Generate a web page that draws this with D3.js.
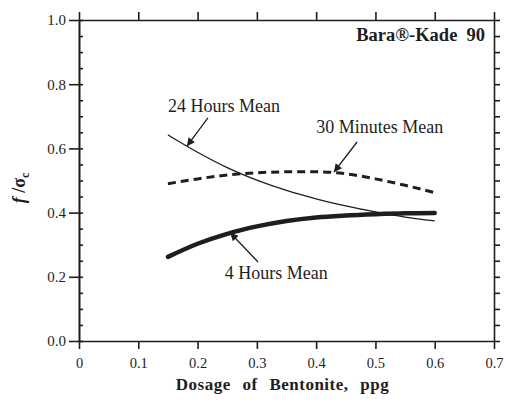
<!DOCTYPE html>
<html>
<head>
<meta charset="utf-8">
<script src="https://cdn.jsdelivr.net/npm/d3@7"></script>
<style>
  body { margin: 0; background: #fff; }
  text { font-family: "Liberation Serif", "DejaVu Serif", serif; fill: #1e1e1e; }
  .axis path, .axis line { stroke: #1e1e1e; stroke-width: 1.6; }
</style>
</head>
<body>
<div id="grafico"></div>
<script>
// Dati
var dosage = [0.15, 0.2, 0.25, 0.3, 0.35, 0.4, 0.45, 0.5, 0.55, 0.6];
var mean24h = [0.642, 0.588, 0.540, 0.501, 0.469, 0.443, 0.421, 0.402, 0.386, 0.374];
var mean30min = [0.49, 0.505, 0.517, 0.524, 0.527, 0.527, 0.521, 0.505, 0.485, 0.462];
var mean4h = [0.262, 0.303, 0.334, 0.357, 0.374, 0.385, 0.391, 0.395, 0.398, 0.399];

var xTicks = [0, 0.1, 0.2, 0.3, 0.4, 0.5, 0.6, 0.7];
var xTickLabels = ['0', '0.1', '0.2', '0.3', '0.4', '0.5', '0.6', '0.7'];
var yTicks = [0, 0.2, 0.4, 0.6, 0.8, 1.0];
var yMinorTicks = d3.range(0, 1.0001, 0.05);

// Etichette con frecce: [testo, x testo, y testo, coda x, coda y, punta x, punta y]
var labels = [
    ['24 Hours Mean', 0.150, 0.713, 0.2175, 0.695, 0.182, 0.607],
    ['30 Minutes Mean', 0.400, 0.648, 0.469, 0.620, 0.430, 0.526],
    ['4 Hours Mean', 0.246, 0.193, 0.302, 0.246, 0.255, 0.337]
];

var width = 505, height = 403;
var margin = {top: 20, right: 11, bottom: 62, left: 79};

var svg = d3.select('#grafico').append('svg')
    .attr('width', width)
    .attr('height', height);

svg.append('rect').attr('width', width).attr('height', height).attr('fill', '#fff');

var x = d3.scaleLinear().domain([0, 0.7]).range([margin.left, width - margin.right]);
var y = d3.scaleLinear().domain([0, 1]).range([height - margin.bottom, margin.top]);

// Assi
svg.append('g').attr('class', 'axis')
    .attr('transform', `translate(0,${y(0)})`)
    .call(d3.axisBottom(x).tickValues(xTicks).tickSize(8).tickSizeOuter(0).tickPadding(9)
        .tickFormat((d, i) => xTickLabels[i]))
    .selectAll('text').style('font-size', '14.5px');

svg.append('g').attr('class', 'axis')
    .attr('transform', `translate(0,${y(1)})`)
    .call(d3.axisTop(x).tickValues(xTicks).tickSize(8).tickSizeOuter(0).tickFormat(''));

svg.append('g').attr('class', 'axis')
    .attr('transform', `translate(${x(0)},0)`)
    .call(d3.axisLeft(y).tickValues(yTicks).tickSize(10).tickSizeOuter(0).tickPadding(3)
        .tickFormat(d3.format('.1f')))
    .selectAll('text').style('font-size', '15px');

svg.append('g').attr('class', 'axis')
    .attr('transform', `translate(${x(0)},0)`)
    .call(d3.axisRight(y).tickValues(yMinorTicks).tickSize(4).tickSizeOuter(0).tickFormat(''));

svg.append('g').attr('class', 'axis')
    .attr('transform', `translate(${x(0.7)},0)`)
    .call(d3.axisRight(y).tickValues(yMinorTicks).tickSize(6).tickSizeOuter(0).tickFormat(''));

// Curve
var line = d3.line()
    .x((d, i) => x(dosage[i]))
    .y(d => y(d))
    .curve(d3.curveMonotoneX);

svg.append('path').datum(mean24h)
    .attr('d', line).attr('fill', 'none')
    .attr('stroke', '#1e1e1e').attr('stroke-width', 1.3);

svg.append('path').datum(mean30min)
    .attr('d', line).attr('fill', 'none')
    .attr('stroke', '#1e1e1e').attr('stroke-width', 3)
    .attr('stroke-dasharray', '8,5');

svg.append('path').datum(mean4h)
    .attr('d', line).attr('fill', 'none')
    .attr('stroke', '#1e1e1e').attr('stroke-width', 4.5)
    .attr('stroke-linecap', 'round');

// Frecce
svg.append('defs').append('marker')
    .attr('id', 'freccia')
    .attr('viewBox', '0 0 10 10')
    .attr('refX', 10).attr('refY', 5)
    .attr('markerWidth', 11).attr('markerHeight', 8)
    .attr('markerUnits', 'userSpaceOnUse')
    .attr('orient', 'auto')
    .append('path').attr('d', 'M0,0 L10,5 L0,10 Z').attr('fill', '#1e1e1e');

svg.selectAll('.freccia').data(labels).enter().append('line')
    .attr('class', 'freccia')
    .attr('x1', d => x(d[3])).attr('y1', d => y(d[4]))
    .attr('x2', d => x(d[5])).attr('y2', d => y(d[6]))
    .attr('stroke', '#1e1e1e').attr('stroke-width', 1.3)
    .attr('marker-end', 'url(#freccia)');

svg.selectAll('.etichetta').data(labels).enter().append('text')
    .attr('class', 'etichetta')
    .attr('x', d => x(d[1])).attr('y', d => y(d[2]))
    .style('font-size', '18px')
    .text(d => d[0]);

// Titolo
svg.append('text')
    .attr('x', x(0.685)).attr('y', y(0.935))
    .attr('text-anchor', 'end')
    .style('font-size', '18.5px').style('font-weight', 'bold')
    .style('white-space', 'pre')
    .text('Bara\u00AE-Kade  90');

// Titoli degli assi
svg.append('text')
    .attr('x', (x(0) + x(0.7)) / 2 - 4).attr('y', 390)
    .attr('text-anchor', 'middle')
    .style('font-size', '17px').style('font-weight', 'bold')
    .style('letter-spacing', '0.5px').style('word-spacing', '7px')
    .text('Dosage of Bentonite, ppg');

var yLabel = svg.append('text')
    .attr('transform', 'translate(25,188) rotate(-90)')
    .attr('text-anchor', 'middle')
    .style('font-size', '18px').style('font-weight', 'bold');
yLabel.append('tspan').style('font-style', 'italic').text('f');
yLabel.append('tspan').text(' /\u03C3');
yLabel.append('tspan').attr('dy', 4).style('font-size', '12px').text('c');
</script>
</body>
</html>
